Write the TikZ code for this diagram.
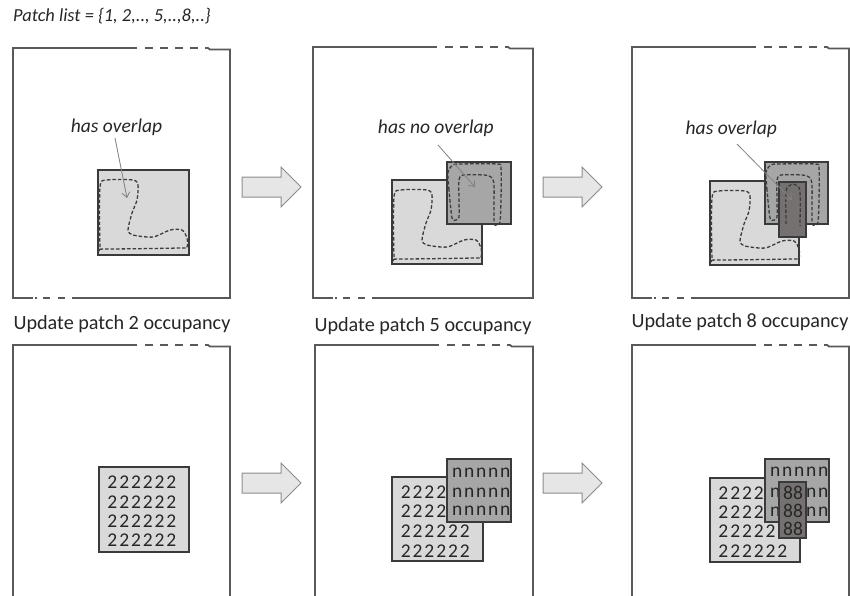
\documentclass[tikz,border=0pt]{standalone}
\usepackage{fontspec}
\setmainfont{Carlito}
\usetikzlibrary{arrows.meta}
\definecolor{framec}{HTML}{595959}
\definecolor{boxc}{HTML}{3A3A3A}
\definecolor{lightc}{HTML}{D9D9D9}
\definecolor{midc}{HTML}{A6A6A6}
\definecolor{darkc}{HTML}{767171}
\definecolor{occc}{HTML}{3C3C3C}
\definecolor{calloutc}{HTML}{808080}
\definecolor{arrowc}{HTML}{8C8C8C}
\definecolor{arrowfill}{HTML}{E6E6E6}
\definecolor{textc}{HTML}{262626}
\tikzset{
  frame/.style={draw=framec, line width=1.8pt},
  patchbox/.style={draw=boxc, line width=1.2pt},
  lightp/.style={patchbox, fill=lightc},
  midp/.style={patchbox, fill=midc},
  darkp/.style={patchbox, fill=darkc},
  occ/.style={draw=occc, line width=1.3pt, dash pattern=on 3.5pt off 2pt},
  callout/.style={draw=calloutc, line width=0.8pt, -{Straight Barb[length=5pt,width=8pt]}},
  blockarrow/.style={draw=arrowc, fill=arrowfill, line width=1pt, line join=miter},
  lbl/.style={font=\fontsize{20.2}{23}\selectfont, inner sep=0pt, text=textc},
  note/.style={font=\fontsize{19.5}{22}\selectfont\itshape, inner sep=0pt, text=textc},
  listnote/.style={font=\fontsize{18.4}{22}\selectfont\itshape, inner sep=0pt, text=textc},
  cell/.style={font=\fontsize{19.5}{22}\selectfont, inner sep=0pt, text=textc},
}
% top-row frame: left x, top y, width, height
\newcommand\topframe[4]{%
  \begin{scope}[shift={(#1,#2)}]
    \draw[frame] (124,0) -- (0,0) -- (0,#4) -- (20,#4);
    \foreach \a in {132,147,162,177} \draw[frame] (\a,0) -- ++(8,0);
    \draw[frame] (192,0) -- (195,0) -- (197,1.5) -- (#3,1.5) -- (#3,#4) -- (59,#4);
    \draw[frame] (22,#4) -- (24,#4);
    \foreach \a in {30,45} \draw[frame] (\a,#4) -- ++(7,0);
  \end{scope}}
% bottom-row frame (open below the page)
\newcommand\botframe[3]{%
  \begin{scope}[shift={(#1,#2)}]
    \draw[frame] (124,0) -- (0,0) -- (0,270);
    \foreach \a in {132,147,162,177} \draw[frame] (\a,0) -- ++(8,0);
    \draw[frame] (192,0) -- (195,0) -- (197,1.5) -- (#3,1.5) -- (#3,270);
  \end{scope}}
\newcommand\blockarr[2]{%
  \draw[blockarrow] (#1,#2-10) -- (#1+39,#2-10) -- (#1+39,#2-20) -- (#1+59,#2)
    -- (#1+39,#2+20) -- (#1+39,#2+10) -- (#1,#2+10) -- cycle;}
\newcommand\Lshape[2]{%
  \draw[occ, shift={(#1,#2)}] plot[smooth cycle, tension=0.45] coordinates
   {(2,17) (9,10) (35,10) (40,15) (39,30) (34,43) (30,60) (35,65) (55,67) (72,60)
    (84,60) (89,68) (89,77) (82,78) (5,79) (2,77)};}
\newcommand\Ushape[2]{%
  \draw[occ, shift={(#1,#2)}] plot[smooth cycle, tension=0.45] coordinates
   {(5,56) (2,28) (1,10) (6,3) (13,2) (50,2) (54,6) (54,38) (53,60) (50,63)
    (47,60) (47,23) (44,15) (37,13) (16,13) (12,18) (12,38) (12,55) (9,58)};}
% name, x of first cell centre, y, first index, last index, pitch, character
\newcommand\cellrow[7]{%
  \foreach \k in {#4,...,#5} {\node[cell] (#1-\k) at ({#2+(\k-1)*#6},#3) {#7};}}
\begin{document}
\begin{tikzpicture}[x=1pt, y=-1pt]
\useasboundingbox (0,0) rectangle (850,595);

\node[listnote, anchor=base west] (plist) at (13,21.7) {Patch list = \{1, 2,.., 5,..,8,..\}};

% ---------- top row ----------
\topframe{13}{48}{217}{250}
\topframe{313}{47}{220}{251}
\topframe{632}{47}{217}{251}

% panel 1
\draw[lightp] (98,170) rectangle (189,255);
\Lshape{98}{170}
\node[note, anchor=base] (n1) at (116.5,132.7) {has overlap};
\coordinate (c1s) at (115,138);
\coordinate (c1e) at (127,198);
\draw[callout] (c1s) -- (c1e);

% panel 2
\draw[lightp] (392,180) rectangle (482,264);
\Lshape{392}{180}
\draw[midp] (447,162) rectangle (511,224);
\Ushape{447}{162}
\node[note, anchor=base] (n2) at (435.8,133.3) {has no overlap};
\coordinate (c2s) at (438,145);
\coordinate (c2e) at (475,187);
\draw[callout] (c2s) -- (c2e);

% panel 3
\draw[lightp] (710,181) rectangle (799,265);
\Lshape{710}{181}
\draw[midp] (765,162) rectangle (828,224);
\Ushape{765}{162}
\draw[darkp] (779,182) rectangle (806,237);
\draw[occ] plot[smooth, tension=0.5] coordinates {(786,224) (786,192) (789,186) (793,184) (797,186) (800,192) (800,226)};
\node[note, anchor=base] (n3) at (731.3,134) {has overlap};
\coordinate (c3s) at (737,144);
\coordinate (c3e) at (792,200);
\draw[callout] (c3s) -- (c3e);

\blockarr{242}{187}
\blockarr{543}{187}

\node[lbl, anchor=base] (u2) at (122,329) {Update patch 2 occupancy};
\node[lbl, anchor=base] (u5) at (423,331) {Update patch 5 occupancy};
\node[lbl, anchor=base] (u8) at (740,327) {Update patch 8 occupancy};

% ---------- bottom row ----------
\botframe{13}{345}{217}
\botframe{315}{345}{218}
\botframe{632}{345}{217}

% panel 4
\draw[lightp] (99,467) rectangle (189,552);
\cellrow{a1}{112.4}{482}{1}{6}{11.8}{2}
\cellrow{a2}{112.4}{502}{1}{6}{11.8}{2}
\cellrow{a3}{112.4}{521}{1}{6}{11.8}{2}
\cellrow{a4}{112.4}{540}{1}{6}{11.8}{2}

% panel 5
\draw[lightp] (392,477) rectangle (483,561);
\cellrow{b1}{405.8}{492.3}{1}{4}{11.8}{2}
\cellrow{b2}{405.8}{511}{1}{4}{11.8}{2}
\cellrow{b3}{405.8}{531}{1}{6}{11.8}{2}
\cellrow{b4}{405.8}{551}{1}{6}{11.8}{2}
\draw[midp] (447,459) rectangle (511,522);
\cellrow{m1}{457.3}{472.7}{1}{5}{12}{n}
\cellrow{m2}{457.3}{492.3}{1}{5}{12}{n}
\cellrow{m3}{457.3}{511}{1}{5}{12}{n}

% panel 6
\draw[lightp] (710,478) rectangle (800,562);
\cellrow{c1}{723.4}{493}{1}{4}{11.8}{2}
\cellrow{c2}{723.4}{512}{1}{4}{11.8}{2}
\cellrow{c3}{723.4}{531.5}{1}{5}{11.8}{2}
\cellrow{c4}{723.4}{551.5}{1}{6}{11.8}{2}
\draw[midp] (765,459) rectangle (829,522);
\cellrow{d1}{775.3}{472}{1}{5}{12}{n}
\cellrow{d2}{775.3}{493}{1}{1}{12}{n}
\cellrow{d2}{775.3}{493}{4}{5}{12}{n}
\cellrow{d3}{775.3}{511.5}{1}{1}{12}{n}
\cellrow{d3}{775.3}{511.5}{4}{5}{12}{n}
\draw[darkp] (779,482) rectangle (806,538);
\node[cell] (e1) at (793,493) {88};
\node[cell] (e2) at (793,511) {88};
\node[cell] (e3) at (793,529) {88};

\blockarr{242}{483}
\blockarr{543}{483}
\end{tikzpicture}
\end{document}
